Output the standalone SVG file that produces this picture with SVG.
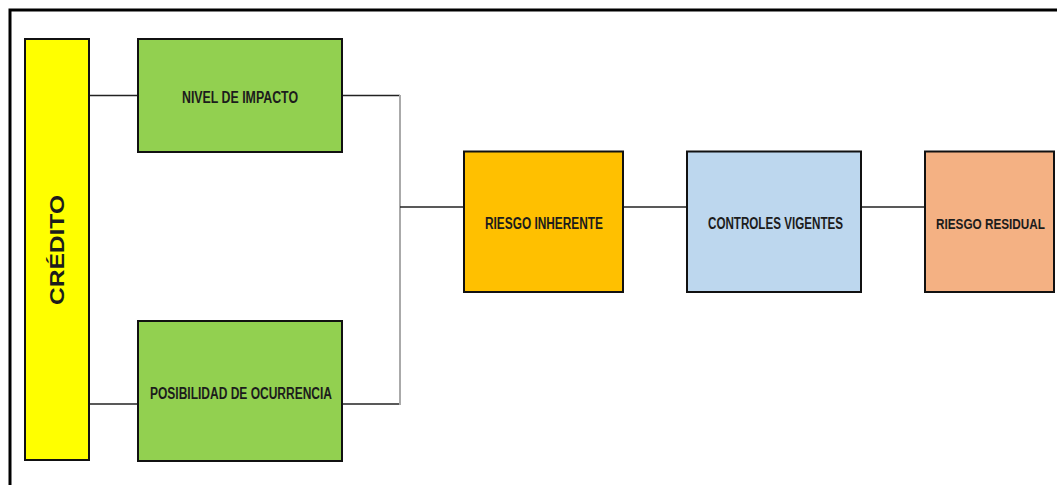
<svg xmlns="http://www.w3.org/2000/svg" width="1057" height="485" viewBox="0 0 1057 485">
<style>
.box{stroke:#111;stroke-width:2}
.lbl{font-family:"Liberation Sans",Arial,sans-serif;font-weight:bold;font-size:16px;fill:#1c1c1c}
.ln{stroke:#222;stroke-width:1.5;fill:none}
.vl{stroke:#aaa;stroke-width:2;fill:none}
</style>
<rect width="1057" height="485" fill="#fff"/>
<path d="M10,485 V10 H1057" fill="none" stroke="#000" stroke-width="3"/>
<g id="connectors">
<line class="ln" x1="89" y1="95.5" x2="138" y2="95.5"/>
<line class="ln" x1="89" y1="404" x2="138" y2="404"/>
<polyline class="ln" points="342,95.5 400,95.5"/>
<polyline class="ln" points="342,404 400,404"/>
<line class="vl" x1="400" y1="95" x2="400" y2="405"/>
<line class="ln" x1="400" y1="207" x2="464" y2="207"/>
<line class="ln" x1="623" y1="207" x2="687" y2="207"/>
<line class="ln" x1="861" y1="207" x2="925" y2="207"/>
</g>
<g id="credito">
<rect class="box" x="25" y="39" width="64" height="421" fill="#FFFF00"/>
<text class="lbl" transform="translate(63.5,250) rotate(-90)" text-anchor="middle" style="font-size:20px" textLength="110" lengthAdjust="spacingAndGlyphs" fill="#111">CRÉDITO</text>
</g>
<g id="nivel">
<rect class="box" x="138" y="39" width="204" height="113" fill="#92D050"/>
<text class="lbl" x="182" y="103" textLength="116" lengthAdjust="spacingAndGlyphs">NIVEL DE IMPACTO</text>
</g>
<g id="posibilidad">
<rect class="box" x="138" y="321" width="204" height="140" fill="#92D050"/>
<text class="lbl" x="150" y="399" textLength="182" lengthAdjust="spacingAndGlyphs">POSIBILIDAD DE OCURRENCIA</text>
</g>
<g id="inherente">
<rect class="box" x="464" y="151.5" width="159" height="140.5" fill="#FFC000"/>
<text class="lbl" x="485" y="229" textLength="118" lengthAdjust="spacingAndGlyphs">RIESGO INHERENTE</text>
</g>
<g id="controles">
<rect class="box" x="687" y="151.5" width="174" height="140.5" fill="#BDD7EE"/>
<text class="lbl" x="708" y="229" textLength="135" lengthAdjust="spacingAndGlyphs">CONTROLES VIGENTES</text>
</g>
<g id="residual">
<rect class="box" x="925" y="151.5" width="129" height="140.5" fill="#F4B183"/>
<text class="lbl" x="990.5" y="229" text-anchor="middle" style="font-size:15px" textLength="109" lengthAdjust="spacingAndGlyphs">RIESGO RESIDUAL</text>
</g>
</svg>
